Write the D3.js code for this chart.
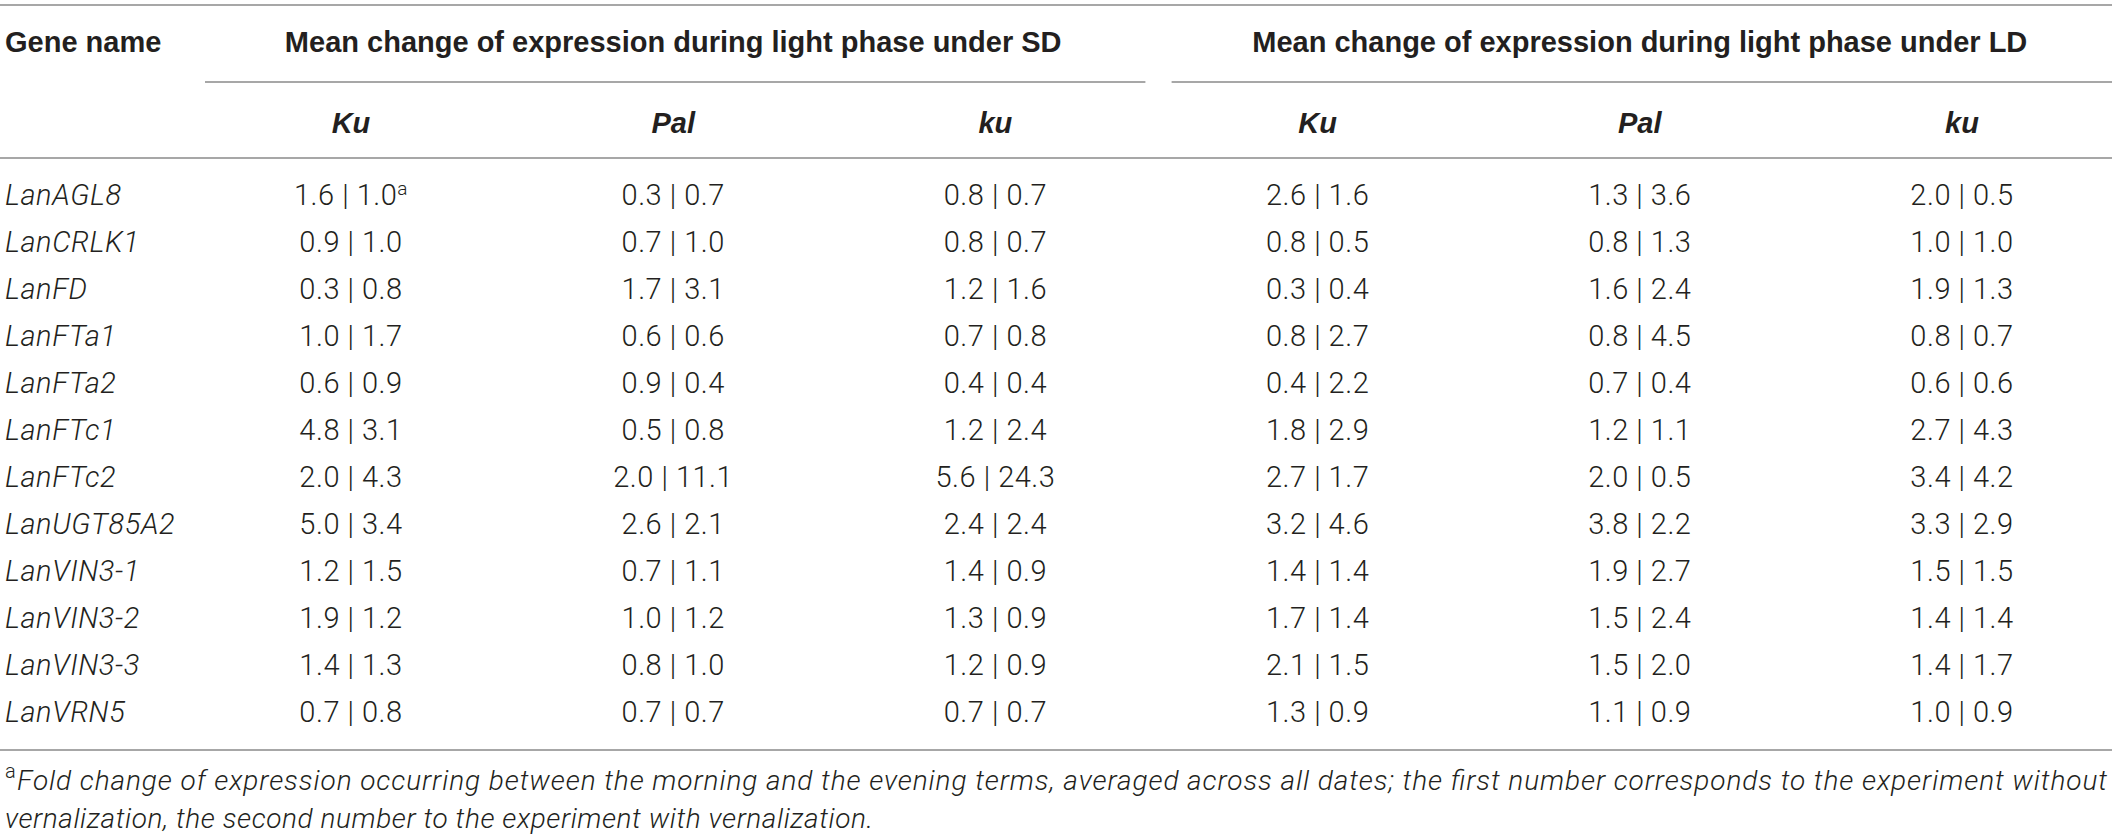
<!DOCTYPE html>
<html>
<head>
<meta charset="utf-8">
<script src="https://cdn.jsdelivr.net/npm/d3@7"></script>
<style>
  body { margin: 0; background: white; }
  text { fill: #231f20; }
</style>
</head>
<body>
<div id="tableAttach"></div>
<script>
// table contents
const genes = ["LanAGL8", "LanCRLK1", "LanFD", "LanFTa1", "LanFTa2", "LanFTc1", "LanFTc2",
    "LanUGT85A2", "LanVIN3-1", "LanVIN3-2", "LanVIN3-3", "LanVRN5"]
const groups = ["SD", "LD"]
const lines = ["Ku", "Pal", "ku"]

// first number = without vernalization, second = with vernalization
const sdKu  = [[1.6,1.0],[0.9,1.0],[0.3,0.8],[1.0,1.7],[0.6,0.9],[4.8,3.1],[2.0,4.3],[5.0,3.4],[1.2,1.5],[1.9,1.2],[1.4,1.3],[0.7,0.8]]
const sdPal = [[0.3,0.7],[0.7,1.0],[1.7,3.1],[0.6,0.6],[0.9,0.4],[0.5,0.8],[2.0,11.1],[2.6,2.1],[0.7,1.1],[1.0,1.2],[0.8,1.0],[0.7,0.7]]
const sdku  = [[0.8,0.7],[0.8,0.7],[1.2,1.6],[0.7,0.8],[0.4,0.4],[1.2,2.4],[5.6,24.3],[2.4,2.4],[1.4,0.9],[1.3,0.9],[1.2,0.9],[0.7,0.7]]
const ldKu  = [[2.6,1.6],[0.8,0.5],[0.3,0.4],[0.8,2.7],[0.4,2.2],[1.8,2.9],[2.7,1.7],[3.2,4.6],[1.4,1.4],[1.7,1.4],[2.1,1.5],[1.3,0.9]]
const ldPal = [[1.3,3.6],[0.8,1.3],[1.6,2.4],[0.8,4.5],[0.7,0.4],[1.2,1.1],[2.0,0.5],[3.8,2.2],[1.9,2.7],[1.5,2.4],[1.5,2.0],[1.1,0.9]]
const ldku  = [[2.0,0.5],[1.0,1.0],[1.9,1.3],[0.8,0.7],[0.6,0.6],[2.7,4.3],[3.4,4.2],[3.3,2.9],[1.5,1.5],[1.4,1.4],[1.4,1.7],[1.0,0.9]]

const footnoteLine1 = "Fold change of expression occurring between the morning and the evening terms, averaged across all dates; the first number corresponds to the experiment without"
const footnoteLine2 = "vernalization, the second number to the experiment with vernalization."

const columns = [
    {group: "SD", line: "Ku", values: sdKu},
    {group: "SD", line: "Pal", values: sdPal},
    {group: "SD", line: "ku", values: sdku},
    {group: "LD", line: "Ku", values: ldKu},
    {group: "LD", line: "Pal", values: ldPal},
    {group: "LD", line: "ku", values: ldku}
]

const width = 2117, height = 837
const svg = d3.select("#tableAttach").append("svg")
    .attr("width", width)
    .attr("height", height)

const headFont = "'Liberation Sans', Arial, sans-serif"
const bodyFont = "Roboto, 'Liberation Sans', sans-serif"
const ruleColor = "#8a8a8a"

const x = d3.scalePoint()
    .domain(columns.map((c, i) => i))
    .range([351, 1962])

const y = d3.scalePoint()
    .domain(genes)
    .range([195, 712])

const f = d3.format(".1f")

// horizontal rules
const rules = [5, 158, 750]
svg.selectAll(".rule")
    .data(rules)
    .join("line")
    .attr("class", "rule")
    .attr("x1", 0)
    .attr("x2", 2112)
    .attr("y1", d => d)
    .attr("y2", d => d)
    .attr("stroke", ruleColor)
    .attr("stroke-width", 1.6)

// header: gene name
svg.append("text")
    .attr("x", 5)
    .attr("y", 42)
    .attr("dy", "0.35em")
    .style("font-family", headFont)
    .style("font-weight", 700)
    .style("font-size", "29px")
    .text("Gene name")

// group headers and their underlines
groups.forEach((g, gi) => {
    const first = x(gi * 3), last = x(gi * 3 + 2)
    svg.append("line")
        .attr("x1", first - 146)
        .attr("x2", last + 150)
        .attr("y1", 82)
        .attr("y2", 82)
        .attr("stroke", ruleColor)
        .attr("stroke-width", 1.6)

    svg.append("text")
        .attr("x", (first + last) / 2)
        .attr("y", 42)
        .attr("dy", "0.35em")
        .attr("text-anchor", "middle")
        .style("font-family", headFont)
        .style("font-weight", 700)
        .style("font-size", "29px")
        .text("Mean change of expression during light phase under " + g)
})

// sub headers
svg.selectAll(".sub-head")
    .data(columns)
    .join("text")
    .attr("class", "sub-head")
    .attr("x", (d, i) => x(i))
    .attr("y", 123)
    .attr("dy", "0.35em")
    .attr("text-anchor", "middle")
    .style("font-family", headFont)
    .style("font-weight", 700)
    .style("font-style", "italic")
    .style("font-size", "29px")
    .text(d => d.line)

// gene names
svg.selectAll(".gene")
    .data(genes)
    .join("text")
    .attr("class", "gene")
    .attr("x", 5)
    .attr("y", d => y(d))
    .attr("dy", "0.35em")
    .style("font-family", bodyFont)
    .style("font-weight", 300)
    .style("font-style", "italic")
    .style("font-size", "29px")
    .style("letter-spacing", "0.6px")
    .text(d => d)

// value cells
columns.forEach((col, ci) => {
    const cells = svg.selectAll(".cell-" + ci)
        .data(col.values)
        .join("text")
        .attr("class", "cell-" + ci)
        .attr("x", x(ci))
        .attr("y", (d, i) => y(genes[i]))
        .attr("dy", "0.35em")
        .attr("text-anchor", "middle")
        .style("font-family", bodyFont)
        .style("font-weight", 300)
        .style("font-size", "29px")
        .style("letter-spacing", "0.5px")
        .text(d => f(d[0]) + " | " + f(d[1]))

    // footnote marker on the very first cell
    if (ci == 0) {
        cells.filter((d, i) => i == 0)
            .append("tspan")
            .attr("dy", "-0.55em")
            .style("font-size", "19px")
            .text("a")
    }
})

// footnote
svg.append("text")
    .attr("x", 5)
    .attr("y", 771)
    .attr("dy", "0.35em")
    .style("font-family", bodyFont)
    .style("font-weight", 300)
    .style("font-size", "20px")
    .text("a")

svg.append("text")
    .attr("x", 17)
    .attr("y", 780)
    .attr("dy", "0.35em")
    .attr("textLength", 2090)
    .attr("lengthAdjust", "spacing")
    .style("font-family", bodyFont)
    .style("font-weight", 300)
    .style("font-style", "italic")
    .style("font-size", "28px")
    .text(footnoteLine1)

svg.append("text")
    .attr("x", 5)
    .attr("y", 818)
    .attr("dy", "0.35em")
    .attr("textLength", 868)
    .attr("lengthAdjust", "spacing")
    .style("font-family", bodyFont)
    .style("font-weight", 300)
    .style("font-style", "italic")
    .style("font-size", "28px")
    .text(footnoteLine2)
</script>
</body>
</html>
